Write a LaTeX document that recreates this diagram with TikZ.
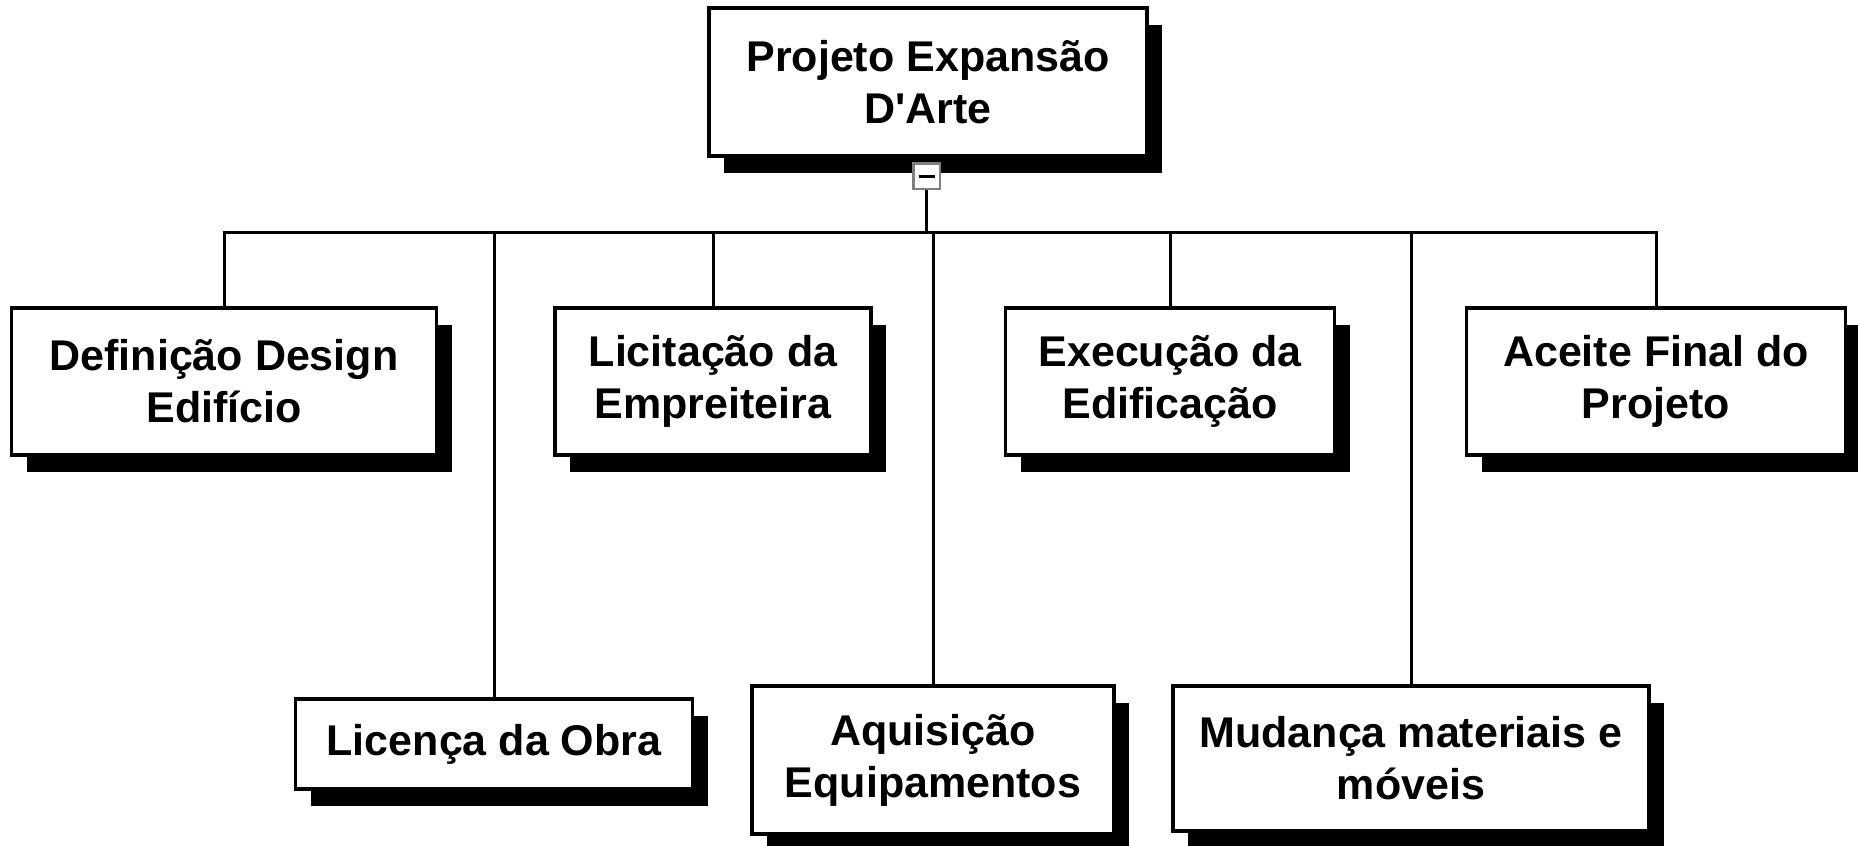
\documentclass[tikz,border=0pt]{standalone}
\usepackage{fontspec}
\setmainfont{Liberation Sans}[Ligatures=TeXOff]
\usetikzlibrary{shadows}
\begin{document}
\begin{tikzpicture}[x=1pt,y=-1pt,
  wbs/.style={draw=black, line width=3.5pt, fill=white, rectangle, align=center, inner sep=0pt,
    font=\bfseries\fontsize{43}{52}\selectfont,
    drop shadow={shadow xshift=15pt, shadow yshift=-17pt, fill=black, opacity=1}},
  conn/.style={line width=3pt},
  togglebox/.style={draw=black!50, fill=white, line width=2.5pt, minimum width=26.5pt, minimum height=25.5pt, inner sep=0pt}]
\useasboundingbox (0,0) rectangle (1858,846);

\node[wbs, minimum width=438pt, minimum height=148pt] (top) at (928,82) {Projeto Expansão\\D'Arte};

\node[wbs, minimum width=425pt, minimum height=147pt] (def) at (224,381.5) {Definição Design\\Edifício};
\node[wbs, minimum width=316pt, minimum height=147pt] (lic) at (713,381.5) {Licitação da\\Empreiteira};
\node[wbs, minimum width=329pt, minimum height=147pt] (exe) at (1170,381.5) {Execução da\\Edificação};
\node[wbs, minimum width=379pt, minimum height=147pt] (ace) at (1656,381.5) {Aceite Final do\\Projeto};

\node[wbs, minimum width=397pt, minimum height=90pt] (licen) at (494,744) {Licença da Obra};
\node[wbs, minimum width=362pt, minimum height=148pt] (aq) at (933,760) {Aquisição\\Equipamentos};
\node[wbs, minimum width=476pt, minimum height=145pt] (mud) at (1411,758.5) {Mudança materiais e\\móveis};

\node[togglebox] (tg) at (926.5,176) {};
\draw[line width=3pt] ([xshift=-8pt]tg.center) -- ([xshift=8pt]tg.center);

\coordinate (bus) at (926.5,232);
\draw[conn] (tg.south) -- (bus);
\foreach \c in {def,licen,lic,aq,exe,mud,ace}
  \draw[conn] (bus) -| (\c.north);
\end{tikzpicture}
\end{document}
